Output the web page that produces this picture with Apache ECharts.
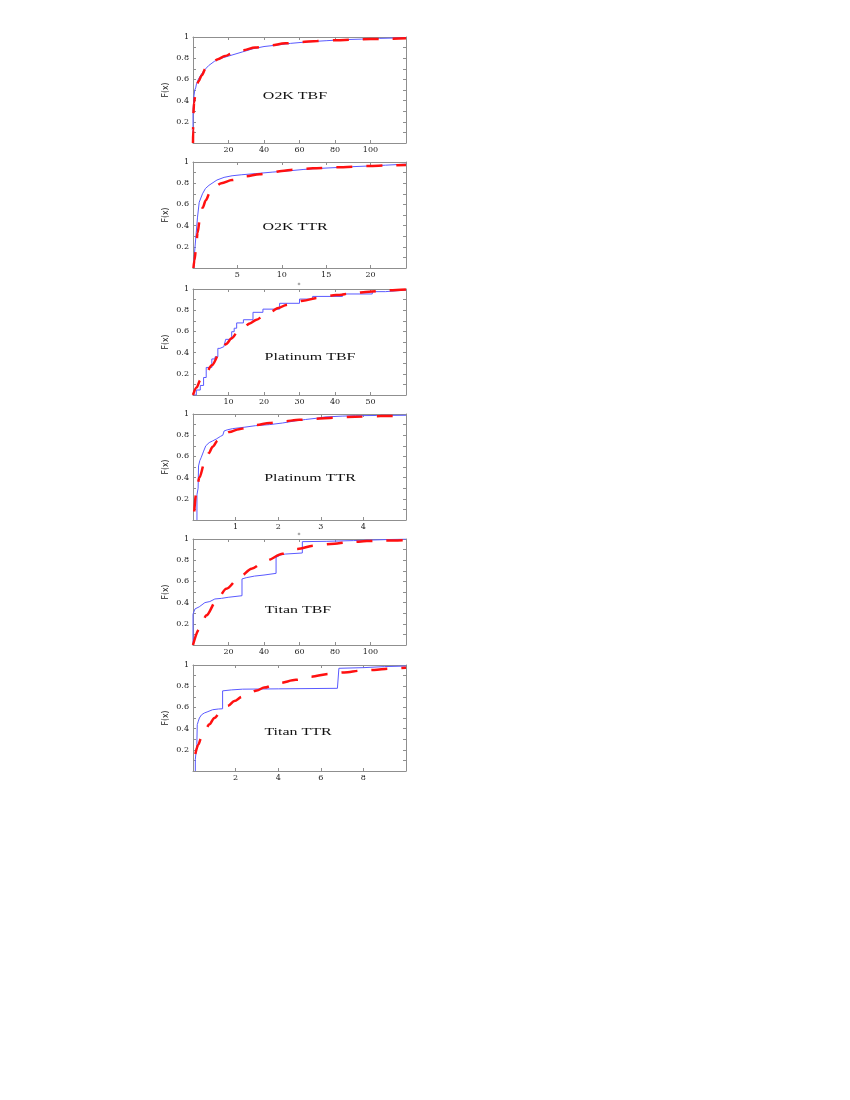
<!DOCTYPE html>
<html>
<head>
<meta charset="utf-8">
<script src="https://cdn.jsdelivr.net/npm/echarts@6/dist/echarts.min.js"></script>
<style>
html,body{margin:0;padding:0;background:#fff;}
#chart{width:850px;height:1100px;}
</style>
</head>
<body>
<div id="chart"></div>
<script>
// ---- data ----
const panelTitles = ['O2K TBF', 'O2K TTR', 'Platinum TBF', 'Platinum TTR', 'Titan TBF', 'Titan TTR'];
const xMax = [120, 24, 60, 5, 120, 10];
const xStep = [20, 5, 10, 1, 20, 2];
const o2kTbfTicks = [20, 40, 60, 80, 100];
const o2kTtrTicks = [5, 10, 15, 20];
const platTbfTicks = [10, 20, 30, 40, 50];
const platTtrTicks = [1, 2, 3, 4];
const titanTbfTicks = [20, 40, 60, 80, 100];
const titanTtrTicks = [2, 4, 6, 8];
const yTickLabels = [0.2, 0.4, 0.6, 0.8, 1];

// empirical CDF (blue) and fitted CDF (red dashed), [x, F(x)]
const o2kTbfEmp = [[0,0],[0,0.3],[0.3,0.38],[0.6,0.45],[1,0.5],[1.5,0.52],[2,0.56],[3,0.6],[4,0.63],[6,0.68],[8.8,0.73],[12,0.77],[16,0.8],[22,0.83],[28,0.86],[34,0.89],[40,0.91],[48,0.925],[55,0.94],[65,0.955],[75,0.965],[85,0.975],[95,0.98],[105,0.987],[120,0.993]];
const o2kTbfFit = [[0,0],[0.05,0.12],[0.2,0.27],[0.6,0.38],[1.5,0.48],[3,0.58],[5,0.64],[7,0.7],[9.7,0.74],[14,0.79],[18,0.82],[22,0.845],[28,0.875],[35,0.9],[43,0.92],[52,0.94],[60,0.953],[70,0.963],[81,0.97],[90,0.975],[100,0.98],[110,0.984],[120,0.988]];

const o2kTtrEmp = [[0.1,0],[0.15,0.12],[0.33,0.3],[0.51,0.48],[0.7,0.62],[1.07,0.7],[1.4,0.75],[1.8,0.78],[2.7,0.83],[3.5,0.855],[4.4,0.87],[5.5,0.88],[7,0.89],[9,0.905],[10.6,0.915],[12.5,0.93],[14.3,0.94],[16,0.947],[18,0.956],[20,0.963],[21.7,0.97],[24,0.98]];
const o2kTtrFit = [[0.05,0],[0.15,0.07],[0.33,0.17],[0.51,0.33],[0.8,0.48],[1.1,0.57],[1.44,0.64],[1.9,0.71],[2.36,0.76],[3.2,0.8],[4.4,0.83],[5.9,0.865],[7.5,0.885],[8.8,0.9],[10,0.915],[11.4,0.928],[13.5,0.94],[16.2,0.95],[19.8,0.962],[22,0.967],[24,0.972]];

const platTbfEmp = [[0,0],[0.93,0],[0.93,0.047],[2.05,0.047],[2.05,0.09],[2.98,0.09],[2.98,0.165],[3.72,0.165],[3.72,0.26],[5.3,0.26],[5.3,0.34],[6.2,0.34],[6.2,0.36],[7.0,0.36],[7.0,0.44],[7.6,0.44],[7.6,0.456],[8.7,0.456],[8.7,0.47],[9.2,0.47],[9.2,0.525],[10.9,0.525],[10.9,0.597],[11.6,0.597],[11.6,0.63],[12.3,0.63],[12.3,0.68],[14.2,0.68],[14.2,0.71],[16.9,0.71],[16.9,0.78],[19.7,0.78],[19.7,0.81],[24.4,0.81],[24.4,0.865],[30,0.865],[30,0.905],[33.7,0.905],[33.7,0.93],[42.1,0.93],[42.1,0.953],[50.5,0.953],[50.5,0.975],[54.2,0.975],[54.2,0.99],[60,0.99]];
const platTbfFit = [[0,0],[1,0.07],[2.05,0.14],[3.5,0.2],[5.3,0.28],[7.6,0.4],[9.3,0.48],[10.9,0.535],[12.5,0.59],[14,0.63],[16,0.675],[17.9,0.71],[20,0.75],[22,0.787],[24,0.82],[26.3,0.85],[28.5,0.87],[31,0.89],[35,0.915],[40.3,0.943],[45,0.96],[49.6,0.975],[55,0.987],[60,0.995]];

const platTtrEmp = [[0.093,0],[0.093,0.238],[0.12,0.3],[0.13,0.51],[0.16,0.56],[0.19,0.587],[0.25,0.65],[0.3,0.7],[0.38,0.73],[0.46,0.746],[0.55,0.765],[0.65,0.79],[0.7,0.8],[0.73,0.84],[0.8,0.85],[0.93,0.862],[1.2,0.875],[1.47,0.89],[1.8,0.9],[2.1,0.915],[2.4,0.935],[2.64,0.948],[2.9,0.96],[3.1,0.972],[3.5,0.98],[3.81,0.984],[4.3,0.986],[5,0.988]];
const platTtrFit = [[0.03,0.08],[0.07,0.24],[0.15,0.4],[0.27,0.54],[0.37,0.63],[0.46,0.69],[0.58,0.75],[0.69,0.79],[0.85,0.83],[1.08,0.857],[1.47,0.895],[1.8,0.915],[2.1,0.93],[2.5,0.945],[2.87,0.955],[3.3,0.965],[3.81,0.974],[4.4,0.98],[5,0.984]];

const titanTbfEmp = [[0,0],[0,0.29],[1.1,0.34],[3.5,0.36],[6.7,0.4],[9.5,0.41],[12.3,0.434],[16,0.44],[19.8,0.45],[27.6,0.465],[27.6,0.623],[30,0.635],[34.6,0.65],[40,0.66],[46.8,0.676],[46.8,0.827],[49.5,0.85],[52,0.858],[61.6,0.868],[61.6,0.975],[75,0.978],[90.5,0.985],[90.5,1],[120,1]];
const titanTbfFit = [[0,0],[3.5,0.15],[7.6,0.28],[13.2,0.42],[18.8,0.53],[26.3,0.64],[33,0.72],[41.2,0.796],[50.5,0.86],[58.9,0.906],[68.2,0.937],[77.5,0.953],[88.6,0.97],[98,0.98],[108,0.986],[120,0.99]];

const titanTtrEmp = [[0.11,0],[0.11,0.11],[0.15,0.2],[0.18,0.25],[0.2,0.437],[0.25,0.47],[0.3,0.5],[0.4,0.53],[0.53,0.547],[0.7,0.56],[0.92,0.578],[1.2,0.585],[1.39,0.587],[1.39,0.756],[1.8,0.765],[2.33,0.772],[4,0.775],[6.78,0.78],[6.85,0.969],[8,0.975],[9,0.985],[10,0.99]];
const titanTtrFit = [[0.11,0.16],[0.25,0.25],[0.38,0.31],[0.55,0.38],[0.77,0.44],[1.0,0.5],[1.31,0.56],[1.65,0.615],[1.94,0.66],[2.3,0.7],[2.56,0.725],[3.0,0.76],[3.34,0.787],[4.05,0.83],[4.83,0.86],[5.53,0.89],[6.39,0.916],[7.1,0.93],[7.9,0.947],[8.5,0.953],[9.2,0.965],[10,0.975]];

const empirical = [o2kTbfEmp, o2kTtrEmp, platTbfEmp, platTtrEmp, titanTbfEmp, titanTtrEmp];
const fitted = [o2kTbfFit, o2kTtrFit, platTbfFit, platTtrFit, titanTbfFit, titanTtrFit];
const xTicks = [o2kTbfTicks, o2kTtrTicks, platTbfTicks, platTtrTicks, titanTbfTicks, titanTtrTicks];

// ---- layout / style ----
const gridTops = [37, 162, 289, 414, 539, 665];
const titlePos = [[295, 96], [295, 227], [310, 357], [310, 478], [298, 610], [298, 732]];
const frame = '#8f8f8f';
const serif = '"DejaVu Serif", serif';

const chart = echarts.init(document.getElementById('chart'), null, {renderer: 'canvas'});
const grid = [], xAxis = [], yAxis = [], series = [], graphic = [];

function near(list, v, eps) { return list.some(t => Math.abs(t - v) < eps); }

for (let i = 0; i < 6; i++) {
  grid.push({left: 193, width: 213, top: gridTops[i], height: 106, containLabel: false});
  const ticks = xTicks[i];
  const eps = xStep[i] * 1e-3;
  xAxis.push({
    type: 'value', gridIndex: i, min: 0, max: xMax[i], interval: xStep[i], position: 'bottom',
    axisLine: {lineStyle: {color: frame, width: 1}},
    axisTick: {inside: true, length: 3, lineStyle: {color: frame}},
    axisLabel: {fontFamily: serif, fontSize: 8, color: '#222', margin: 3, showMaxLabel: true,
      formatter: v => near(ticks, v, eps) ? String(v) : ''},
    splitLine: {show: false}
  });
  xAxis.push({
    type: 'value', gridIndex: i, min: 0, max: xMax[i], interval: xStep[i], position: 'top',
    axisLine: {onZero: false, lineStyle: {color: frame, width: 1}},
    axisTick: {inside: true, length: 3, lineStyle: {color: frame}},
    axisLabel: {show: false}, splitLine: {show: false}
  });
  yAxis.push({
    type: 'value', gridIndex: i, min: 0, max: 1, interval: 0.1, position: 'left',
    name: 'F(x)', nameLocation: 'middle', nameGap: 23, nameRotate: 90,
    nameTextStyle: {fontFamily: '"DejaVu Sans Condensed", "DejaVu Sans", sans-serif', fontSize: 8.5, color: '#222'},
    axisLine: {onZero: false, lineStyle: {color: frame, width: 1}},
    axisTick: {inside: true, length: 3, lineStyle: {color: frame}},
    axisLabel: {fontFamily: serif, fontSize: 8, color: '#222', margin: 4,
      formatter: v => near(yTickLabels, v, 1e-6) ? String(Math.round(v * 10) / 10) : ''},
    splitLine: {show: false}
  });
  yAxis.push({
    type: 'value', gridIndex: i, min: 0, max: 1, interval: 0.1, position: 'right',
    axisLine: {onZero: false, lineStyle: {color: frame, width: 1}},
    axisTick: {inside: true, length: 3, lineStyle: {color: frame}},
    axisLabel: {show: false}, splitLine: {show: false}
  });
  series.push({
    type: 'line', xAxisIndex: 2 * i, yAxisIndex: 2 * i, data: empirical[i],
    showSymbol: false, symbol: 'none', z: 2,
    lineStyle: {color: '#5a5aff', width: 1}
  });
  series.push({
    type: 'line', xAxisIndex: 2 * i, yAxisIndex: 2 * i, data: fitted[i],
    showSymbol: false, symbol: 'none', smooth: 0.3, smoothMonotone: 'x', z: 3,
    lineStyle: {color: '#ff1010', width: 2.5, type: [16, 14]}
  });
  graphic.push({
    type: 'text', x: titlePos[i][0], y: titlePos[i][1], scaleX: 1.45, z: 10,
    style: {text: panelTitles[i], font: '11px "Liberation Serif", serif', fill: '#111',
      textAlign: 'center', textVerticalAlign: 'middle'}
  });
}
graphic.push({type: 'text', x: 299, y: 285, style: {text: '*', font: '6px "DejaVu Sans"', fill: '#444', textAlign: 'center', textVerticalAlign: 'middle'}});
graphic.push({type: 'text', x: 299, y: 535, style: {text: '*', font: '6px "DejaVu Sans"', fill: '#444', textAlign: 'center', textVerticalAlign: 'middle'}});

chart.setOption({
  animation: false,
  backgroundColor: '#fff',
  grid, xAxis, yAxis, series, graphic
});
</script>
</body>
</html>
